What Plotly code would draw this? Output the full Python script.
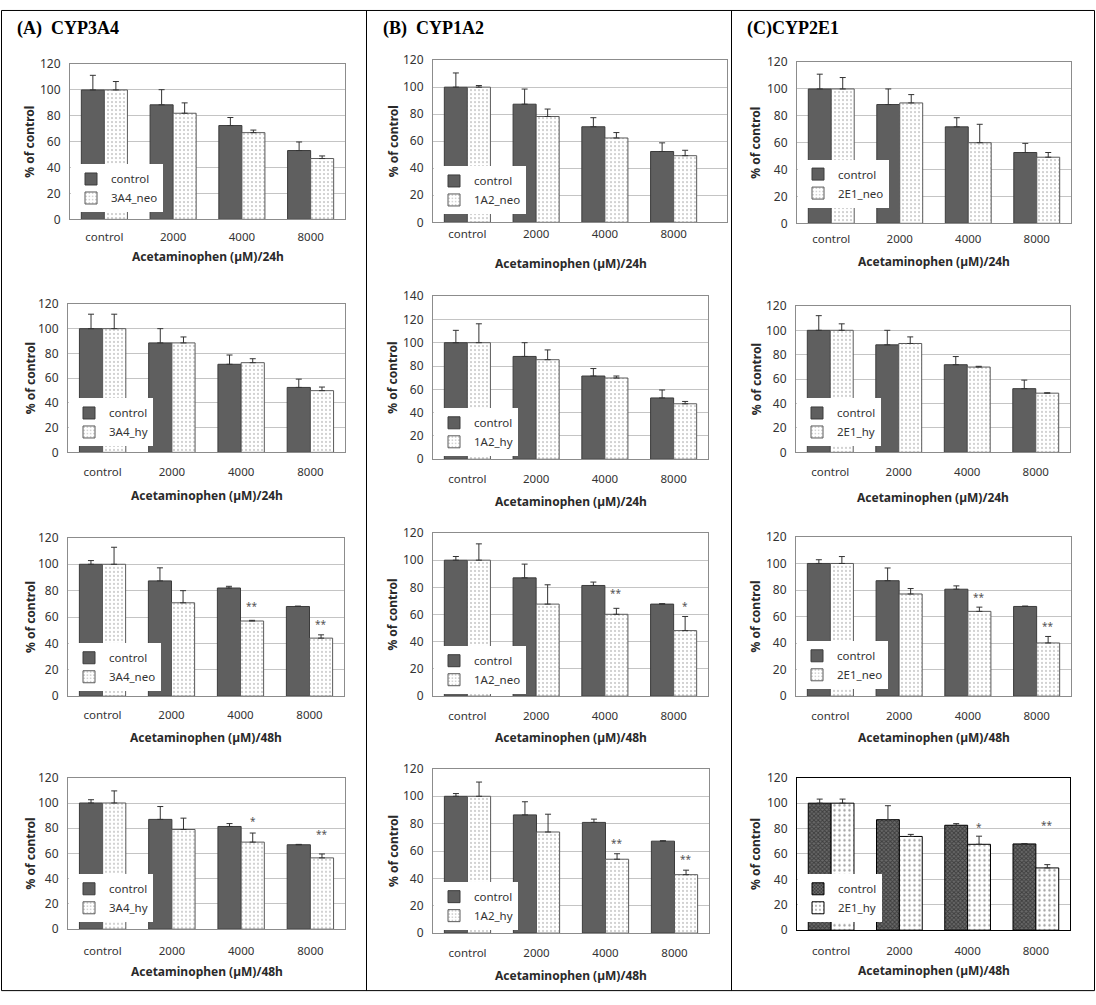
import plotly.graph_objects as go

W, H = 1096, 1005

# ---------------- data ----------------
categories = ["control", "2000", "4000", "8000"]
column_titles = ["(A)  CYP3A4", "(B)  CYP1A2", "(C)CYP2E1"]
x_title_24h = "Acetaminophen (µM)/24h"
x_title_48h = "Acetaminophen (µM)/48h"
y_title = "% of control"
ctrl_name = "control"

# Column A - CYP3A4
a1_ctrl = [100, 88.5, 72.5, 53.2]; a1_ctrl_err = [11.3, 11.7, 6.2, 6.6]
a1_trt = [100, 82.0, 67.0, 47.0];  a1_trt_err = [6.5, 8.0, 2.0, 2.0]
a2_ctrl = [100, 88.5, 71.2, 52.5]; a2_ctrl_err = [11.7, 11.5, 7.5, 6.7]
a2_trt = [100, 88.5, 72.5, 49.9];  a2_trt_err = [11.7, 4.8, 3.2, 2.9]
a3_ctrl = [100, 87.4, 82.0, 68.0]; a3_ctrl_err = [2.8, 9.9, 1.3, 0.3]
a3_trt = [100, 70.8, 57.0, 44.0];  a3_trt_err = [12.9, 9.2, 0.5, 2.5]
a4_ctrl = [100, 87.0, 81.4, 66.9]; a4_ctrl_err = [2.6, 10.2, 2.3, 0.3]
a4_trt = [100, 79.0, 69.0, 56.5];  a4_trt_err = [9.6, 9.0, 7.2, 3.1]

# Column B - CYP1A2
b1_ctrl = [100, 87.4, 70.7, 52.4]; b1_ctrl_err = [10.5, 11.2, 6.7, 6.4]
b1_trt = [100, 78.3, 62.4, 49.3];  b1_trt_err = [1.2, 5.5, 4.0, 4.0]
b2_ctrl = [100, 88.2, 71.4, 52.6]; b2_ctrl_err = [10.6, 11.8, 6.4, 6.8]
b2_trt = [100, 85.4, 69.7, 47.6];  b2_trt_err = [16.2, 8.4, 1.7, 2.0]
b3_ctrl = [100, 87.0, 81.4, 67.7]; b3_ctrl_err = [2.7, 10.1, 2.5, 0.3]
b3_trt = [100, 67.7, 60.2, 48.2];  b3_trt_err = [12.0, 14.2, 4.4, 10.4]
b4_ctrl = [100, 86.4, 80.9, 67.2]; b4_ctrl_err = [2.0, 9.6, 2.4, 0.3]
b4_trt = [100, 73.9, 54.0, 42.7];  b4_trt_err = [10.4, 13.0, 4.0, 3.3]

# Column C - CYP2E1
c1_ctrl = [100, 88.4, 71.8, 52.7]; c1_ctrl_err = [11.0, 11.6, 6.8, 6.8]
c1_trt = [100, 89.6, 60.0, 49.2];  c1_trt_err = [8.5, 6.2, 13.7, 3.5]
c2_ctrl = [100, 88.1, 71.8, 52.2]; c2_ctrl_err = [12.0, 11.9, 6.7, 7.0]
c2_trt = [100, 89.2, 69.9, 48.5];  c2_trt_err = [5.3, 5.4, 0.6, 0.3]
c3_ctrl = [100, 87.0, 80.6, 67.6]; c3_ctrl_err = [2.8, 9.6, 2.5, 0.3]
c3_trt = [100, 77.0, 63.9, 40.1];  c3_trt_err = [5.2, 4.1, 3.2, 4.9]
c4_ctrl = [100, 87.0, 82.6, 67.9]; c4_ctrl_err = [3.2, 11.0, 1.3, 0.3]
c4_trt = [100, 73.8, 67.6, 49.0];  c4_trt_err = [3.2, 1.6, 6.4, 2.6]

# significance marks (label text and the height where it is printed)
a3_sig = ["", "", "**", "**"]; a3_sig_y = [0, 0, 68.0, 55.0]
a4_sig = ["", "", "*", "**"];  a4_sig_y = [0, 0, 86.0, 75.5]
b3_sig = ["", "", "**", "*"];  b3_sig_y = [0, 0, 76.0, 66.0]
b4_sig = ["", "", "**", "**"]; b4_sig_y = [0, 0, 65.5, 54.0]
c3_sig = ["", "", "**", "**"]; c3_sig_y = [0, 0, 75.0, 52.5]
c4_sig = ["", "", "*", "**"];  c4_sig_y = [0, 0, 81.5, 82.5]
no_sig = ["", "", "", ""]

panels = [
    # (row, col, ctrl, ctrl_err, trt, trt_err, trt_name, x title, y max, sig, sig_y)
    (0, 0, a1_ctrl, a1_ctrl_err, a1_trt, a1_trt_err, "3A4_neo", x_title_24h, 120, no_sig, None),
    (1, 0, a2_ctrl, a2_ctrl_err, a2_trt, a2_trt_err, "3A4_hy", x_title_24h, 120, no_sig, None),
    (2, 0, a3_ctrl, a3_ctrl_err, a3_trt, a3_trt_err, "3A4_neo", x_title_48h, 120, a3_sig, a3_sig_y),
    (3, 0, a4_ctrl, a4_ctrl_err, a4_trt, a4_trt_err, "3A4_hy", x_title_48h, 120, a4_sig, a4_sig_y),
    (0, 1, b1_ctrl, b1_ctrl_err, b1_trt, b1_trt_err, "1A2_neo", x_title_24h, 120, no_sig, None),
    (1, 1, b2_ctrl, b2_ctrl_err, b2_trt, b2_trt_err, "1A2_hy", x_title_24h, 140, no_sig, None),
    (2, 1, b3_ctrl, b3_ctrl_err, b3_trt, b3_trt_err, "1A2_neo", x_title_48h, 120, b3_sig, b3_sig_y),
    (3, 1, b4_ctrl, b4_ctrl_err, b4_trt, b4_trt_err, "1A2_hy", x_title_48h, 120, b4_sig, b4_sig_y),
    (0, 2, c1_ctrl, c1_ctrl_err, c1_trt, c1_trt_err, "2E1_neo", x_title_24h, 120, no_sig, None),
    (1, 2, c2_ctrl, c2_ctrl_err, c2_trt, c2_trt_err, "2E1_hy", x_title_24h, 120, no_sig, None),
    (2, 2, c3_ctrl, c3_ctrl_err, c3_trt, c3_trt_err, "2E1_neo", x_title_48h, 120, c3_sig, c3_sig_y),
    (3, 2, c4_ctrl, c4_ctrl_err, c4_trt, c4_trt_err, "2E1_hy", x_title_48h, 120, c4_sig, c4_sig_y),
]

# ---------------- layout geometry (pixels) ----------------
# plot box: left, right (category area), top, bottom, extra right box px
boxes = {
    (0, 0): (70, 345, 56, 214, 0), (1, 0): (68, 345, 300, 451, 0),
    (2, 0): (68, 344, 538, 699, 0), (3, 0): (68, 345, 782, 936, 0),
    (0, 1): (433, 708, 52, 217, 19), (1, 1): (433, 708, 292, 458, 0),
    (2, 1): (433, 708, 533, 699, 0), (3, 1): (433, 709, 773, 940, 0),
    (0, 2): (797, 1071, 54, 218, 0), (1, 2): (796, 1070, 302, 451, 0),
    (2, 2): (796, 1071, 537, 699, 0), (3, 2): (797, 1070, 782, 937, 0),
}
tick_dist = {
    (0, 0): 18, (1, 0): 20, (2, 0): 19, (3, 0): 22,
    (0, 1): 12, (1, 1): 20, (2, 1): 20, (3, 1): 20,
    (0, 2): 16, (1, 2): 20, (2, 2): 20, (3, 2): 21,
}
xtitle_y = {
    (0, 0): 252, (1, 0): 495, (2, 0): 741, (3, 0): 979,
    (0, 1): 259, (1, 1): 501, (2, 1): 741, (3, 1): 983,
    (0, 2): 257, (1, 2): 497, (2, 2): 741, (3, 2): 978,
}
legend_pos = {
    (0, 0): (71, 207), (1, 0): (69, 445), (2, 0): (69, 694), (3, 0): (69, 929),
    (0, 1): (434, 209), (1, 1): (434, 455), (2, 1): (434, 697), (3, 1): (434, 937),
    (0, 2): (798, 202), (1, 2): (797, 445), (2, 2): (797, 692), (3, 2): (798, 929),
}
ytitle_x = [30, 393, 756]
header_x = [15, 381, 745]

def px_x(p):
    return p / W

def px_y(p):
    return 1 - p / H

fig = go.Figure()
FONT = "Noto Sans, DejaVu Sans, sans-serif"
layout = dict(
    width=W, height=H, margin=dict(l=0, r=0, t=0, b=0),
    paper_bgcolor="white", plot_bgcolor="white",
    bargap=0.33, bargroupgap=0, barmode="group",
    font=dict(family=FONT, color="#333333"),
)
annotations = []
shapes = []

CTRL_FILL = "#5f5f5f"
XTICK_FONT = dict(size=11.5, color="#333333", family=FONT)
YTICK_FONT = dict(size=12, color="#333333", family=FONT)
TITLE_FONT = dict(size=12, color="#2a2a2a", family=FONT)

for k, (r, c, ctrl, ctrl_err, trt, trt_err, trt_name, xtitle, ymax, sig, sig_y) in enumerate(panels, start=1):
    left, right, top, bottom, extra = boxes[(r, c)]
    suffix = "" if k == 1 else str(k)
    xa, ya = "x" + suffix, "y" + suffix
    leg = "legend" + suffix
    special = (r, c) == (3, 2)
    border = "#000000" if special else "#8c8c8c"

    if special:
        ctrl_marker = dict(color="#444444", line=dict(color="#000000", width=1),
                           pattern=dict(shape="x", size=3, solidity=0.55,
                                        fgcolor="#111111", bgcolor="#6a6a6a"))
        trt_marker = dict(color="white", line=dict(color="#000000", width=1),
                          pattern=dict(shape=".", size=5, solidity=0.18,
                                       fgcolor="#444444", bgcolor="white"))
    else:
        ctrl_marker = dict(color=CTRL_FILL, line=dict(color="#3c3c3c", width=1))
        trt_marker = dict(color="white", line=dict(color="#5a5a5a", width=1),
                          pattern=dict(shape=".", size=4, solidity=0.22,
                                       fgcolor="#8f8f8f", bgcolor="white"))

    err_style = dict(type="data", symmetric=False, arrayminus=[0, 0, 0, 0],
                     color="#333333", thickness=1, width=3)
    fig.add_trace(go.Bar(x=categories, y=ctrl, name=ctrl_name, xaxis=xa, yaxis=ya,
                         legend=leg, marker=ctrl_marker,
                         error_y=dict(array=ctrl_err, **err_style)))
    fig.add_trace(go.Bar(x=categories, y=trt, name=trt_name, xaxis=xa, yaxis=ya,
                         legend=leg, marker=trt_marker,
                         error_y=dict(array=trt_err, **err_style)))

    cat_px = (right - left) / 4.0
    xr_hi = 3.5 + extra / cat_px
    layout["xaxis" + suffix] = dict(
        domain=[px_x(left), px_x(right + extra)], anchor=ya, type="category",
        range=[-0.5, xr_hi], showgrid=False, zeroline=False,
        showline=True, mirror=True, linecolor=border, linewidth=1,
        ticks="", tickfont=XTICK_FONT, ticklabelstandoff=max(tick_dist[(r, c)] - 11, 0),
        fixedrange=True,
    )
    layout["yaxis" + suffix] = dict(
        domain=[px_y(bottom), px_y(top)], anchor=xa, range=[0, ymax], dtick=20,
        showgrid=True, gridcolor="#c4c4c4", gridwidth=1, zeroline=False,
        showline=True, mirror=True, linecolor=border, linewidth=1,
        ticks="", tickfont=YTICK_FONT, ticklabelstandoff=6, fixedrange=True,
    )
    lx, ly = legend_pos[(r, c)]
    layout[leg] = dict(
        x=px_x(lx), y=px_y(ly), xanchor="left", yanchor="bottom",
        bgcolor="white", borderwidth=0, tracegroupgap=0,
        font=dict(size=11.5, color="#333333", family=FONT),
        itemclick=False, itemdoubleclick=False,
    )
    # x axis title
    annotations.append(dict(
        text="<b>" + xtitle + "</b>", xref="paper", yref="paper",
        x=px_x((left + right) / 2), y=px_y(xtitle_y[(r, c)]),
        xanchor="center", yanchor="middle", showarrow=False, font=TITLE_FONT))
    # y axis title
    annotations.append(dict(
        text="<b>" + y_title + "</b>", xref="paper", yref="paper",
        x=px_x(ytitle_x[c]), y=px_y((top + bottom) / 2), textangle=-90,
        xanchor="center", yanchor="middle", showarrow=False, font=TITLE_FONT))
    # significance marks
    if sig_y is not None:
        for i, s in enumerate(sig):
            if s:
                annotations.append(dict(
                    text=s, xref=xa, yref=ya, x=i + 0.1675, y=sig_y[i],
                    xanchor="center", yanchor="middle", showarrow=False,
                    font=dict(size=10, color="#555555")))

# column headers
for c, t in enumerate(column_titles):
    annotations.append(dict(
        text="<b>" + t + "</b>", xref="paper", yref="paper",
        x=px_x(header_x[c]), y=px_y(20), xanchor="left", yanchor="middle",
        showarrow=False,
        font=dict(size=18, color="#000000", family="Liberation Serif, DejaVu Serif, serif")))

# table frame
for xv in [1.5, 366.5, 731.5, 1094.5]:
    shapes.append(dict(type="line", xref="paper", yref="paper",
                       x0=px_x(xv), x1=px_x(xv), y0=px_y(1.5), y1=px_y(998.5),
                       line=dict(color="#000000", width=1)))
for yv in [1.5, 998.5]:
    shapes.append(dict(type="line", xref="paper", yref="paper",
                       x0=px_x(1.5), x1=px_x(1094.5), y0=px_y(yv), y1=px_y(yv),
                       line=dict(color="#000000", width=1)))

layout["annotations"] = annotations
layout["shapes"] = shapes
fig.update_layout(**layout)
fig.write_html("out.html", config={"displayModeBar": False, "staticPlot": False},
               post_script="document.body.style.margin='0';document.body.style.overflow='hidden';")
